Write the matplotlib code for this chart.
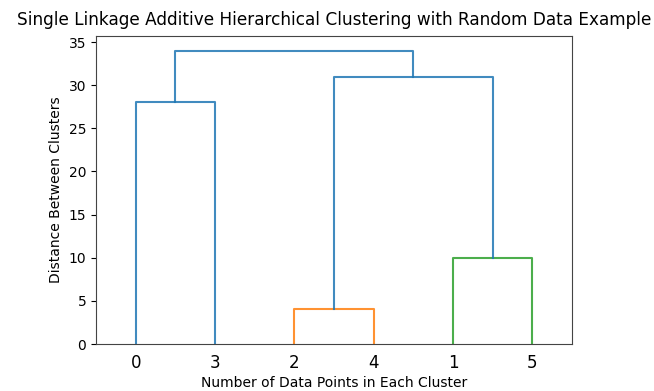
import numpy as np
import matplotlib
matplotlib.use("Agg")
import matplotlib.pyplot as plt

# linkage rows: (cluster a, cluster b, merge distance); new clusters get ids 6, 7, ...
n_points = 6
merges = [
    (2, 4, 4.1),
    (1, 5, 10.0),
    (0, 3, 28.0),
    (6, 7, 31.0),
    (8, 9, 34.0),
]
merge_colors = ["C1", "C2", "C0", "C0", "C0"]

# walk the tree to get leaf order and link coordinates
def leaves_of(c):
    if c < n_points:
        return [c]
    a, b, _ = merges[c - n_points]
    return leaves_of(a) + leaves_of(b)

root = n_points + len(merges) - 1
order = leaves_of(root)
xpos = {leaf: 5 + 10 * i for i, leaf in enumerate(order)}

def node_xy(c):
    if c < n_points:
        return xpos[c], 0.0
    a, b, h = merges[c - n_points]
    xa, _ = node_xy(a)
    xb, _ = node_xy(b)
    return (xa + xb) / 2, h

fig = plt.figure(figsize=(6.54, 3.91), dpi=100)
ax = fig.add_axes([0.1468, 0.1202, 0.728, 0.7877])

for k, (a, b, h) in enumerate(merges):
    xa, ya = node_xy(a)
    xb, yb = node_xy(b)
    ax.plot([xa, xa, xb, xb], [ya, h, h, yb], color=merge_colors[k], lw=1.5, alpha=0.85)

max_h = max(m[2] for m in merges)
ax.set_xlim(0, 10 * n_points)
ax.set_ylim(0, max_h * 1.05)
ax.set_xticks([xpos[l] for l in order])
ax.set_xticklabels([str(l) for l in order], fontsize=12)
ax.xaxis.set_ticks_position("bottom")
ax.yaxis.set_ticks_position("left")
ax.tick_params(axis="x", length=0, pad=7)
for s in ax.spines.values():
    s.set_color("#444444")

ax.set_title("Single Linkage Additive Hierarchical Clustering with Random Data Example",
             fontsize=12.2, pad=8)
ax.set_xlabel("Number of Data Points in Each Cluster", labelpad=3)
ax.set_ylabel("Distance Between Clusters")

fig.savefig("out.png", dpi=100)
